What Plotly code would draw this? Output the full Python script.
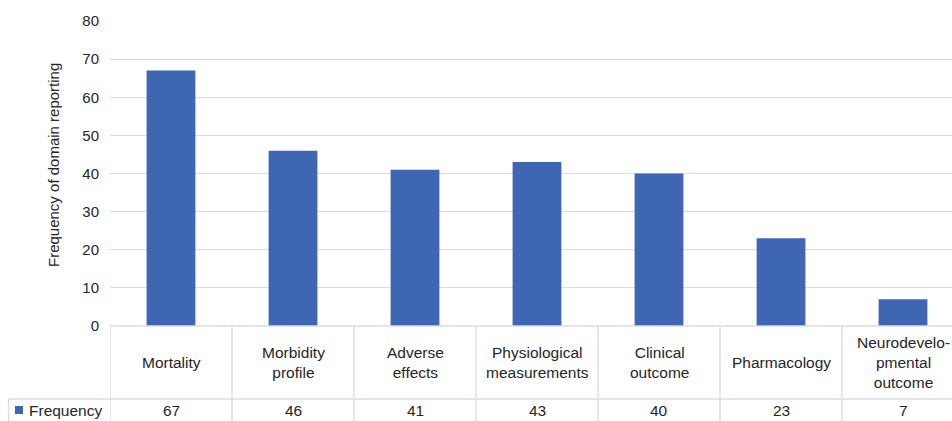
import plotly.graph_objects as go

categories = ["Mortality", "Morbidity<br>profile", "Adverse<br>effects",
              "Physiological<br>measurements", "Clinical<br>outcome",
              "Pharmacology", "Neurodevelo-<br>pmental<br>outcome"]
frequency = [67, 46, 41, 43, 40, 23, 7]
series_name = "Frequency"
y_ticks = [0, 10, 20, 30, 40, 50, 60, 70, 80]

W, H = 952, 421
ML, MR, MT, MB = 110, 0, 21, 95
plot_w = W - ML - MR
plot_h = H - MT - MB
col_px = 122.0
x_min = -0.5
x_max = x_min + plot_w / col_px

def py_to_paper(py):
    return (H - MB - py) / plot_h

def px_to_paper(px):
    return (px - ML) / plot_w

FONT = "Liberation Sans, Arial, sans-serif"
TXT = "#262626"
LINE = "#d9dce3"
BAR = "#3f66b2"

xs = list(range(len(categories)))

fig = go.Figure()
fig.add_trace(go.Bar(
    x=xs, y=frequency, width=0.4, name=series_name,
    marker=dict(color=BAR, line=dict(width=0)),
    showlegend=False,
))

shapes = []
annotations = []

for i in range(len(categories) + 1):
    xb = i - 0.5
    shapes.append(dict(type="line", xref="x", yref="paper",
                       x0=xb, x1=xb, y0=0, y1=py_to_paper(H + 5),
                       line=dict(color=LINE, width=1.3)))
shapes.append(dict(type="line", xref="paper", yref="paper",
                   x0=0, x1=1.05, y0=0, y1=0,
                   line=dict(color=LINE, width=1.5)))
shapes.append(dict(type="line", xref="paper", yref="paper",
                   x0=px_to_paper(8.5), x1=1.05,
                   y0=py_to_paper(399), y1=py_to_paper(399),
                   line=dict(color=LINE, width=1.3)))
shapes.append(dict(type="line", xref="paper", yref="paper",
                   x0=px_to_paper(8.5), x1=px_to_paper(8.5),
                   y0=py_to_paper(399), y1=py_to_paper(H + 5),
                   line=dict(color=LINE, width=1.3)))
shapes.append(dict(type="rect", xref="paper", yref="paper",
                   x0=px_to_paper(15), x1=px_to_paper(23),
                   y0=py_to_paper(414), y1=py_to_paper(406),
                   fillcolor=BAR, line=dict(width=0)))

for i, (c, v) in enumerate(zip(categories, frequency)):
    annotations.append(dict(x=i, y=py_to_paper(362), xref="x", yref="paper",
                            text=c, showarrow=False, xanchor="center", yanchor="middle",
                            font=dict(family=FONT, size=15.5, color=TXT)))
    annotations.append(dict(x=i, y=py_to_paper(410), xref="x", yref="paper",
                            text=str(v), showarrow=False, xanchor="center", yanchor="middle",
                            font=dict(family=FONT, size=15.5, color=TXT)))

annotations.append(dict(x=px_to_paper(27), y=py_to_paper(410), xref="paper", yref="paper",
                        text=series_name, showarrow=False, xanchor="left", yanchor="middle",
                        font=dict(family=FONT, size=15.5, color=TXT)))
annotations.append(dict(x=px_to_paper(53), y=py_to_paper(165), xref="paper", yref="paper",
                        text="Frequency of domain reporting", textangle=-90,
                        showarrow=False, xanchor="center", yanchor="middle",
                        font=dict(family=FONT, size=15, color=TXT)))

fig.update_layout(
    width=W, height=H,
    margin=dict(l=ML, r=MR, t=MT, b=MB, pad=0),
    paper_bgcolor="white", plot_bgcolor="white",
    bargap=0.6,
    shapes=shapes, annotations=annotations,
    xaxis=dict(range=[x_min, x_max], showticklabels=False, showgrid=False,
               zeroline=False, showline=False, ticks="", fixedrange=True),
    yaxis=dict(range=[0, 80], tickvals=y_ticks, showgrid=True, gridcolor=LINE,
               gridwidth=1.3, zeroline=False, showline=False, ticks="",
               ticklabelstandoff=10,
               tickfont=dict(family=FONT, size=15, color=TXT)),
)

fig.write_html("out.html", config={"displayModeBar": False},
               post_script="document.body.style.margin='0';document.body.style.overflow='hidden';")
